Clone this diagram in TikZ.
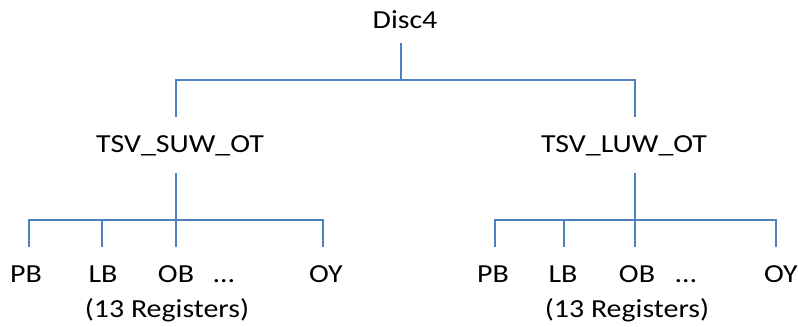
\documentclass[tikz,border=0pt]{standalone}
\usepackage{fontspec}
\setmainfont{Carlito}[FakeStretch=1.15]
\definecolor{linkblue}{HTML}{4F81BD}
\tikzset{
  lbl/.style={anchor=base, inner sep=0pt, outer sep=0pt, font=\fontsize{19.5pt}{23pt}\selectfont},
  link/.style={draw=linkblue, line width=1pt}
}
\begin{document}
\begin{tikzpicture}[x=0.75pt, y=-0.75pt]
\useasboundingbox (0,0) rectangle (798,326);

% labels
\node[lbl] (disc) at (405,28) {Disc4};
\node[lbl] (suw) at (180,152) {TSV\_SUW\_OT};
\node[lbl] (luw) at (624,152) {TSV\_LUW\_OT};

\node[lbl] (lpb) at (26,282) {PB};
\node[lbl] (llb) at (103,282) {LB};
\node[lbl] (lob) at (176,282) {OB};
\node[lbl] (ldots) at (224,282) {…};
\node[lbl] (loy) at (326,282) {OY};
\node[lbl] (lreg) at (167,317) {(13 Registers)};

\node[lbl] (rpb) at (493,282) {PB};
\node[lbl] (rlb) at (563,282) {LB};
\node[lbl] (rob) at (637,282) {OB};
\node[lbl] (rdots) at (686,282) {…};
\node[lbl] (roy) at (781,282) {OY};
\node[lbl] (rreg) at (627,317) {(13 Registers)};

% connector end points
\coordinate (d0) at (401,43);
\coordinate (d1) at (401,80);
\coordinate (s0) at (176,80);
\coordinate (s1) at (176,117);
\coordinate (t0) at (635,80);
\coordinate (t1) at (635,117);

\coordinate (sa) at (176,173);
\coordinate (sj) at (176,220);
\coordinate (sL) at (29,220);
\coordinate (sR) at (323,220);
\coordinate (s-pb) at (29,247);
\coordinate (s-lb-top) at (102,220);
\coordinate (s-lb) at (102,247);
\coordinate (s-ob) at (176,247);
\coordinate (s-oy) at (323,247);

\coordinate (ta) at (635,173);
\coordinate (tj) at (635,220);
\coordinate (tL) at (495,220);
\coordinate (tR) at (776,220);
\coordinate (t-pb) at (495,247);
\coordinate (t-lb-top) at (564,220);
\coordinate (t-lb) at (564,247);
\coordinate (t-ob) at (635,247);
\coordinate (t-oy) at (776,247);

% top level
\draw[link] (d0) -- (d1);
\draw[link] (s1) -- (s0) -- (t0) -- (t1);

% left branch
\draw[link] (sa) -- (s-ob);
\draw[link] (s-pb) -- (sL) -- (sR) -- (s-oy);
\draw[link] (s-lb-top) -- (s-lb);

% right branch
\draw[link] (ta) -- (t-ob);
\draw[link] (t-pb) -- (tL) -- (tR) -- (t-oy);
\draw[link] (t-lb-top) -- (t-lb);
\end{tikzpicture}
\end{document}
